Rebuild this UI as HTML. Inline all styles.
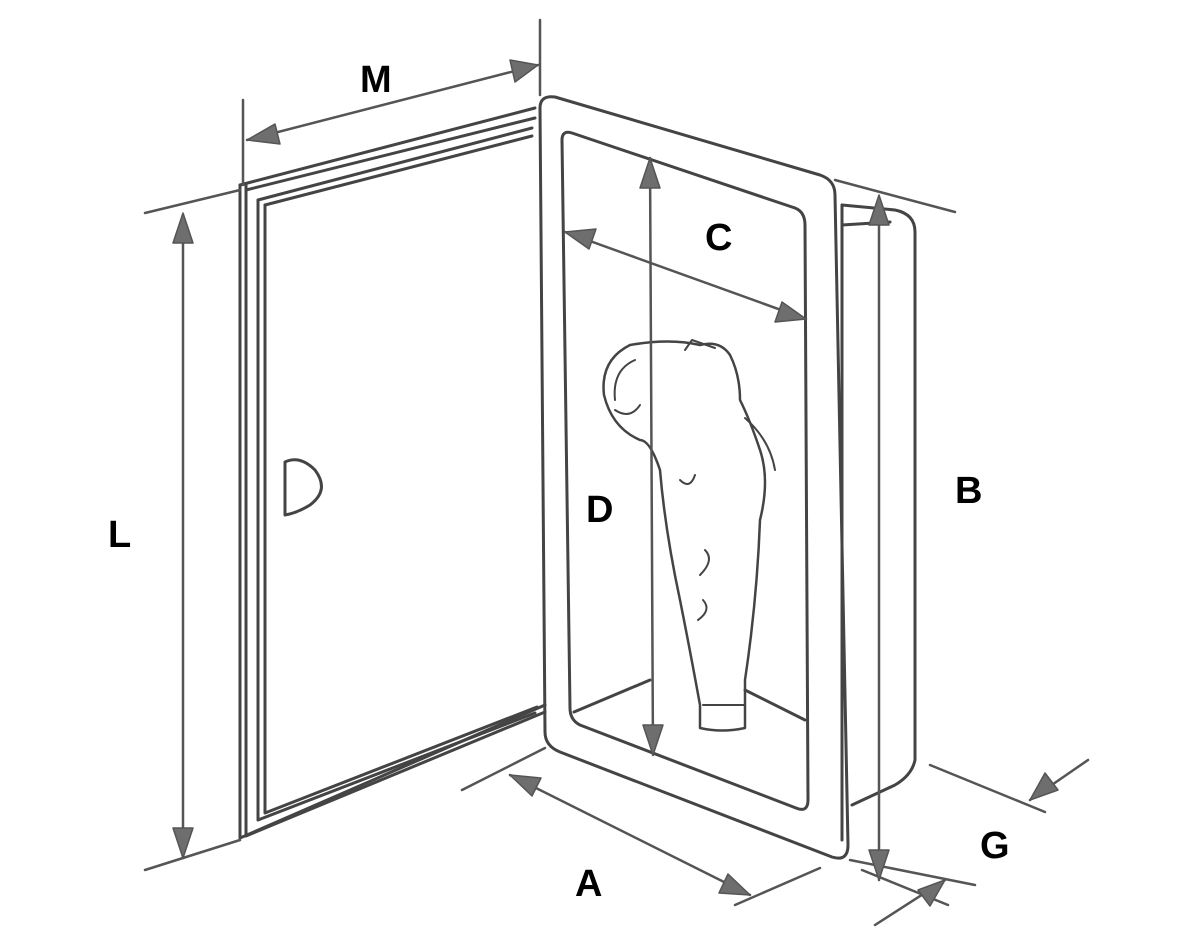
<!DOCTYPE html>
<html><head><meta charset="utf-8"><style>
html,body{margin:0;padding:0;background:#fff;}
svg{display:block}
text{font-family:"Liberation Sans",sans-serif;font-weight:bold;font-size:38px;fill:#000}
</style></head><body>
<svg width="1200" height="950" viewBox="0 0 1200 950" xmlns="http://www.w3.org/2000/svg">
<defs>
<marker id="ah" viewBox="0 0 10 10" refX="10" refY="5" markerWidth="9" markerHeight="9" markerUnits="userSpaceOnUse" orient="auto-start-reverse">
</marker>
</defs>
<g fill="none" stroke="#444" stroke-width="3" stroke-linecap="round" stroke-linejoin="round">
<!-- door -->
<path d="M240 185 L240 838"/>
<path d="M246 185 L246 836"/>
<path d="M240 185 L535 108"/>
<path d="M246 190 L535 118"/>
<path d="M258 200 L258 820 L535 713"/>
<path d="M258 200 L532 128"/>
<path d="M265 205 L265 813 L537 707"/>
<path d="M265 205 L532 136"/>
<path d="M240 838 L545 705"/>
<path d="M246 836 L545 712"/>
<!-- handle -->
<path d="M285 515 L285 462 Q300 455 315 470 Q330 490 310 505 Q297 513 285 515 Z"/>
<!-- frame outer -->
<path d="M540 108 Q540 95 555 97 L820 175 Q835 180 835 195 L848 845 Q848 862 832 857 L560 752 Q545 746 545 732 Z"/>
<!-- frame inner -->
<path d="M562 140 Q562 130 572 133 L795 208 Q805 212 805 225 L808 800 Q808 813 796 808 L580 725 Q570 720 570 708 Z"/>
<!-- box -->
<path d="M842 205 L895 210 Q915 214 915 232 L915 760 Q912 775 895 785 L852 805"/>
<path d="M842 225 L890 222"/>
<path d="M842 205 L842 840"/>
<!-- floor lines inside -->
<path d="M574 712 L650 680"/>
<path d="M745 690 L805 720"/>
<!-- shower head -->
<path d="M700 728 L700 705 Q690 650 680 600 Q665 530 660 470 Q650 440 640 440 Q612 428 604 395 Q600 360 630 345 Q670 338 700 345 Q720 340 730 355 Q740 375 740 400 Q750 420 760 450 Q770 480 760 520 Q757 600 745 680 L745 728 Q722 733 700 728 Z" stroke-width="2.5"/>
<path d="M615 400 Q612 370 635 360" stroke-width="2"/>
<path d="M615 410 Q630 420 640 405" stroke-width="2"/>
<path d="M703 705 L745 705" stroke-width="2"/>
<path d="M685 350 L692 340 L715 348" stroke-width="2"/>
<path d="M745 418 Q770 440 775 470" stroke-width="2"/>
<path d="M700 575 Q715 560 705 550" stroke-width="2"/>
<path d="M698 620 Q712 610 703 600" stroke-width="2"/>
<path d="M680 480 Q690 490 695 475" stroke-width="2"/>
</g>
<!-- dimension lines -->
<g fill="none" stroke="#555" stroke-width="2.5" stroke-linecap="round">
<path d="M243 100 L243 185"/>
<path d="M540 20 L540 95"/>
<path d="M247 140 L538 65"/>
<path d="M145 213 L240 190"/>
<path d="M145 870 L240 840"/>
<path d="M183 215 L183 858"/>
<path d="M650 158 L653 755"/>
<path d="M565 232 L806 319"/>
<path d="M835 180 L955 212"/>
<path d="M879 197 L879 880"/>
<path d="M462 790 L545 748"/>
<path d="M510 775 L750 895"/>
<path d="M735 905 L820 868"/>
<path d="M850 860 L975 885"/>
<path d="M862 870 L948 905"/>
<path d="M930 765 L1045 812"/>
<path d="M1088 760 L1030 800"/>
<path d="M875 925 L945 880"/>
</g>
<g fill="#6e6e6e" stroke="#555" stroke-width="1.5" stroke-linejoin="round">
<!-- M arrows -->
<polygon points="247,140 275,124 280,144"/>
<polygon points="538,65 510,60 515,82"/>
<!-- L -->
<polygon points="183,213 173,243 193,243"/>
<polygon points="183,858 173,828 193,828"/>
<!-- D -->
<polygon points="650,158 640,188 660,188"/>
<polygon points="653,755 643,725 663,725"/>
<!-- C -->
<polygon points="565,232 596,229 589,249"/>
<polygon points="806,319 775,322 782,302"/>
<!-- B -->
<polygon points="879,195 869,225 889,225"/>
<polygon points="879,880 869,850 889,850"/>
<!-- A -->
<polygon points="510,775 541,778 532,796"/>
<polygon points="750,895 719,893 728,874"/>
<!-- G -->
<polygon points="1030,800 1045,773 1058,790"/>
<polygon points="945,880 930,906 918,890"/>
</g>
<text x="360" y="92">M</text>
<text x="705" y="250">C</text>
<text x="108" y="547">L</text>
<text x="586" y="522">D</text>
<text x="955" y="503">B</text>
<text x="575" y="896">A</text>
<text x="980" y="858">G</text>
</svg>
</body></html>
